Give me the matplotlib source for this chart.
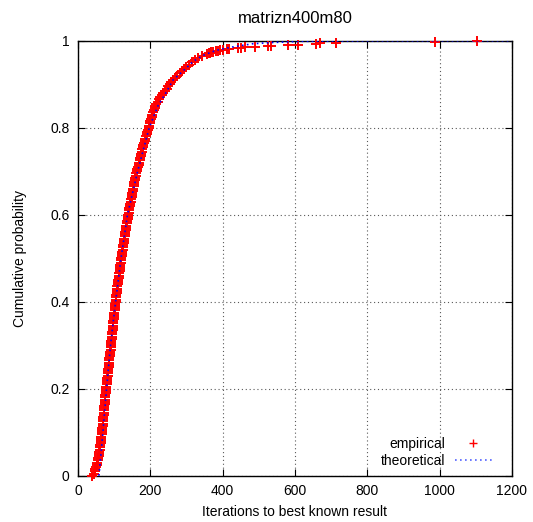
import matplotlib
matplotlib.use("Agg")
import matplotlib.pyplot as plt

plt.rcParams["font.family"] = ["Liberation Sans", "DejaVu Sans"]
plt.rcParams["font.size"] = 10

TITLE = "matrizn400m80"
XLABEL = "Iterations to best known result"
YLABEL = "Cumulative probability"

# empirical points, every 0.005 of probability up to 0.97,
# then the separate markers of the tail
emp_iters = [
    40, 43, 46, 48, 50, 51.5, 53, 54.5, 56, 57,
    58, 59, 60, 61, 61.5, 62.5, 63, 64, 64.5, 65.5,
    66, 66.5, 67, 68, 68.5, 69, 69.5, 70.5, 71, 71.5,
    72, 72.5, 73, 73.5, 74, 75, 75.5, 76, 76.5, 77,
    78, 78.5, 79, 80, 80.5, 81, 82, 83, 83.5, 84,
    85, 85.5, 86, 86.5, 87, 88, 88.5, 89, 90, 90.5,
    91, 91.5, 92, 93, 93.5, 94, 95, 95.5, 96, 96.5,
    97, 98, 98.5, 99, 100, 100.5, 101, 102, 102.5, 103,
    104, 105, 105.5, 106, 107, 108, 108.5, 109, 110, 111,
    112, 113, 113.5, 114, 115, 116, 116.5, 117, 118, 119,
    120, 121, 122, 123, 123.5, 124, 125, 126, 127, 128,
    129, 130, 131, 132, 133, 134, 135, 136, 137, 138,
    139, 140, 141, 142, 143, 144, 145.5, 147, 148, 149,
    150, 151, 152.5, 154, 155, 156, 157.5, 159, 160, 161.5,
    163, 164.5, 166, 167.5, 169, 170.5, 172, 173.5, 175, 176.5,
    178, 179.5, 181, 183, 184.5, 186, 188, 190, 191.5, 193,
    195, 197, 198.5, 200, 202, 204, 206, 208, 210, 212,
    214, 217, 220, 223, 227, 231, 236, 240, 245, 249,
    254, 258, 263, 269, 275, 281, 287, 293, 300, 307,
    314, 323, 332, 344, 357,
    361, 365, 369, 374, 381, 388, 394, 400, 411, 418,
    443, 452, 461, 489, 526, 535, 581, 608, 659, 668,
    714, 986, 1104,
]
emp_prob = [
    0.000, 0.005, 0.010, 0.015, 0.020, 0.025, 0.030, 0.035, 0.040, 0.045,
    0.050, 0.055, 0.060, 0.065, 0.070, 0.075, 0.080, 0.085, 0.090, 0.095,
    0.100, 0.105, 0.110, 0.115, 0.120, 0.125, 0.130, 0.135, 0.140, 0.145,
    0.150, 0.155, 0.160, 0.165, 0.170, 0.175, 0.180, 0.185, 0.190, 0.195,
    0.200, 0.205, 0.210, 0.215, 0.220, 0.225, 0.230, 0.235, 0.240, 0.245,
    0.250, 0.255, 0.260, 0.265, 0.270, 0.275, 0.280, 0.285, 0.290, 0.295,
    0.300, 0.305, 0.310, 0.315, 0.320, 0.325, 0.330, 0.335, 0.340, 0.345,
    0.350, 0.355, 0.360, 0.365, 0.370, 0.375, 0.380, 0.385, 0.390, 0.395,
    0.400, 0.405, 0.410, 0.415, 0.420, 0.425, 0.430, 0.435, 0.440, 0.445,
    0.450, 0.455, 0.460, 0.465, 0.470, 0.475, 0.480, 0.485, 0.490, 0.495,
    0.500, 0.505, 0.510, 0.515, 0.520, 0.525, 0.530, 0.535, 0.540, 0.545,
    0.550, 0.555, 0.560, 0.565, 0.570, 0.575, 0.580, 0.585, 0.590, 0.595,
    0.600, 0.605, 0.610, 0.615, 0.620, 0.625, 0.630, 0.635, 0.640, 0.645,
    0.650, 0.655, 0.660, 0.665, 0.670, 0.675, 0.680, 0.685, 0.690, 0.695,
    0.700, 0.705, 0.710, 0.715, 0.720, 0.725, 0.730, 0.735, 0.740, 0.745,
    0.750, 0.755, 0.760, 0.765, 0.770, 0.775, 0.780, 0.785, 0.790, 0.795,
    0.800, 0.805, 0.810, 0.815, 0.820, 0.825, 0.830, 0.835, 0.840, 0.845,
    0.850, 0.855, 0.860, 0.865, 0.870, 0.875, 0.880, 0.885, 0.890, 0.895,
    0.900, 0.905, 0.910, 0.915, 0.920, 0.925, 0.930, 0.935, 0.940, 0.945,
    0.950, 0.955, 0.960, 0.965, 0.970,
    0.971, 0.9725, 0.974, 0.975, 0.976, 0.977, 0.978, 0.979, 0.981, 0.982,
    0.983, 0.984, 0.985, 0.986, 0.988, 0.989, 0.990, 0.991, 0.993, 0.994,
    0.995, 0.998, 0.999,
]

# theoretical curve
theo_iters = [58, 68, 79, 90, 104, 119, 137, 165, 197, 221, 243, 263, 290,
              318, 345, 373, 392, 430, 483, 540, 621, 800, 1200]
theo_prob = [0.0, 0.09, 0.2, 0.3, 0.4, 0.5, 0.6, 0.7, 0.8, 0.85, 0.88, 0.91, 0.93,
             0.952, 0.966, 0.975, 0.98, 0.986, 0.993, 0.996, 0.9986, 0.9998, 1.0]

xticks = [0, 200, 400, 600, 800, 1000, 1200]
yticks = [0, 0.2, 0.4, 0.6, 0.8, 1]
ytick_labels = ["0", "0.2", "0.4", "0.6", "0.8", "1"]

fig = plt.figure(figsize=(5.33, 5.22), dpi=100)
ax = fig.add_axes([0.1463, 0.0887, 0.8143, 0.8333])

ax.plot(emp_iters, emp_prob, linestyle="none", marker="+", color="#ff0000",
        markersize=6.5, markeredgewidth=1.4, label="empirical", clip_on=False, zorder=3)
ax.plot(theo_iters, theo_prob, linestyle=(0, (1, 2)), color="#0000ff",
        linewidth=1.2, label="theoretical", zorder=4)

ax.set_xlim(0, 1200)
ax.set_ylim(0, 1)
ax.set_xticks(xticks)
ax.set_yticks(yticks)
ax.set_yticklabels(ytick_labels)
ax.tick_params(direction="in", top=True, right=True, length=5, width=0.8, pad=6)
ax.grid(True, color="0.35", linestyle=(0, (1, 2.5)), linewidth=0.8)
for s in ax.spines.values():
    s.set_linewidth(1.0)

ax.set_title(TITLE, pad=13)
ax.set_xlabel(XLABEL, labelpad=5)
ax.set_ylabel(YLABEL, labelpad=17)

# key like gnuplot: text first, right aligned, sample after it
leg = ax.legend(loc="lower right", bbox_to_anchor=(0.954, 0.018), frameon=False,
                markerfirst=False, handlelength=2.7, handletextpad=0.65,
                labelspacing=0.2, borderpad=0, borderaxespad=0, fontsize=10)
leg.legend_handles[0].set_markersize(6)
leg.legend_handles[0].set_markeredgewidth(1.0)
leg.legend_handles[1].set_color("#5060ff")

fig.savefig("out.png", dpi=100)
